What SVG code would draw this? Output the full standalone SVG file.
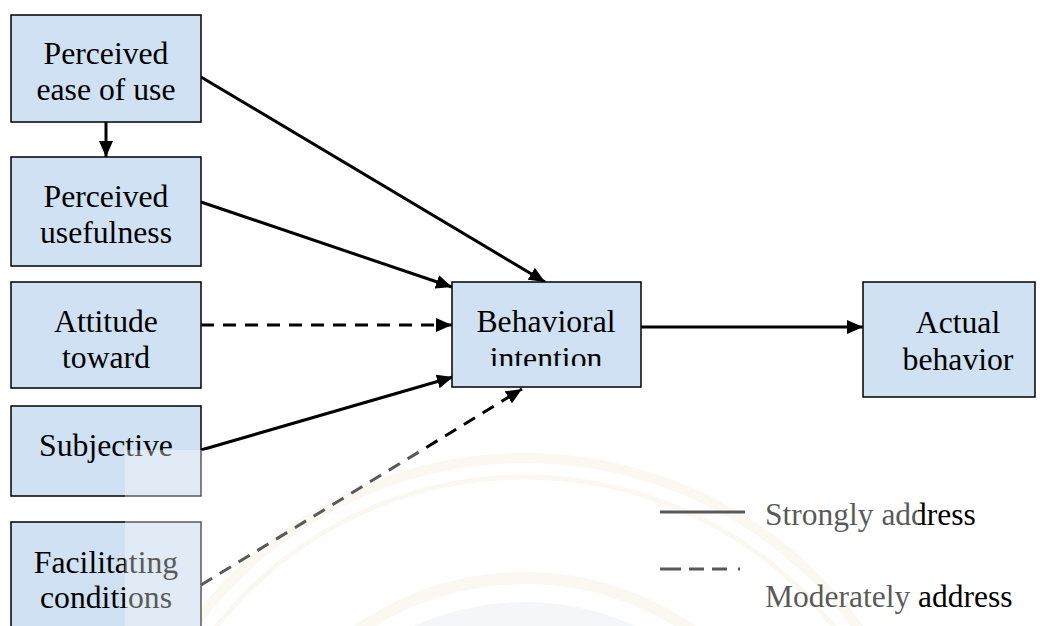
<svg xmlns="http://www.w3.org/2000/svg" width="1040" height="626" viewBox="0 0 1040 626">
  <style>
    .box { fill: #cfe1f2; stroke: #000; stroke-width: 1.5; }
    .lbl { font-family: 'Liberation Serif', 'DejaVu Serif', serif; font-size: 31.7px; fill: #000; text-anchor: middle; }
    .leg { font-family: 'Liberation Serif', 'DejaVu Serif', serif; font-size: 31.5px; fill: #000; }
    .solid { stroke: #000; stroke-width: 3; fill: none; }
    .dash { stroke: #000; stroke-width: 3; fill: none; stroke-dasharray: 13 9; }
    .wm { fill: none; stroke: #f8f4ea; }
  </style>
  <defs>
    <marker id="ah" markerUnits="userSpaceOnUse" markerWidth="16" markerHeight="14" refX="16" refY="7" orient="auto">
      <path d="M0,0 L16,7 L0,14 Z" fill="#000"/>
    </marker>
    <clipPath id="biclip">
      <rect x="452" y="282" width="189" height="84"/>
    </clipPath>
  </defs>

  <rect x="0" y="0" width="1040" height="626" fill="#fff"/>

  <!-- faint watermark seal -->
  <g id="watermark">
    <circle cx="525" cy="870" r="268" fill="#eef2f8"/>
    <circle class="wm" cx="525" cy="870" r="412" stroke-width="10"/>
    <circle class="wm" cx="525" cy="870" r="393" stroke-width="5"/>
    <circle class="wm" cx="525" cy="870" r="292" stroke-width="12"/>
  </g>

  <g id="connectors">
    <line class="solid" x1="106" y1="122" x2="106" y2="157" marker-end="url(#ah)"/>
    <line class="solid" x1="201" y1="77" x2="545" y2="282" marker-end="url(#ah)"/>
    <line class="solid" x1="201" y1="202" x2="452" y2="287" marker-end="url(#ah)"/>
    <line class="dash" x1="201" y1="325" x2="452" y2="325" marker-end="url(#ah)"/>
    <line class="solid" x1="201" y1="450" x2="453" y2="377" marker-end="url(#ah)"/>
    <line class="dash" x1="201" y1="585" x2="522" y2="389" marker-end="url(#ah)"/>
    <line class="solid" x1="641" y1="327" x2="863" y2="327" marker-end="url(#ah)"/>
  </g>

  <g id="node-peou">
    <rect class="box" x="11" y="15" width="190" height="107"/>
    <text class="lbl" x="106" y="64">Perceived</text>
    <text class="lbl" x="106" y="100">ease of use</text>
  </g>
  <g id="node-pu">
    <rect class="box" x="11" y="157" width="190" height="109"/>
    <text class="lbl" x="106" y="207">Perceived</text>
    <text class="lbl" x="106" y="243">usefulness</text>
  </g>
  <g id="node-att">
    <rect class="box" x="11" y="282" width="190" height="106"/>
    <text class="lbl" x="106" y="332">Attitude</text>
    <text class="lbl" x="106" y="368">toward</text>
  </g>
  <g id="node-subj">
    <rect class="box" x="11" y="406" width="190" height="90"/>
    <text class="lbl" x="106" y="456">Subjective</text>
  </g>
  <g id="node-fc">
    <rect class="box" x="11" y="522" width="190" height="120"/>
    <text class="lbl" x="106" y="573">Facilitating</text>
    <text class="lbl" x="106" y="608">conditions</text>
  </g>
  <g id="node-bi">
    <rect class="box" x="452" y="282" width="189" height="105"/>
    <text class="lbl" x="546" y="332">Behavioral</text>
    <text class="lbl" x="546" y="369" clip-path="url(#biclip)">intention</text>
  </g>
  <g id="node-ab">
    <rect class="box" x="863" y="282" width="172" height="115"/>
    <text class="lbl" x="958" y="333">Actual</text>
    <text class="lbl" x="958" y="370">behavior</text>
  </g>

  <g id="legend">
    <line x1="660" y1="512" x2="745" y2="512" stroke="#000" stroke-width="3"/>
    <line x1="660" y1="569" x2="745" y2="569" stroke="#000" stroke-width="3" stroke-dasharray="21 8 15 8 15 11 2"/>
    <text class="leg" x="765" y="525">Strongly address</text>
    <text class="leg" x="765" y="607">Moderately address</text>
  </g>

  <!-- watermark veil -->
  <rect x="125" y="450" width="793" height="176" fill="#fff" fill-opacity="0.35"/>
</svg>
